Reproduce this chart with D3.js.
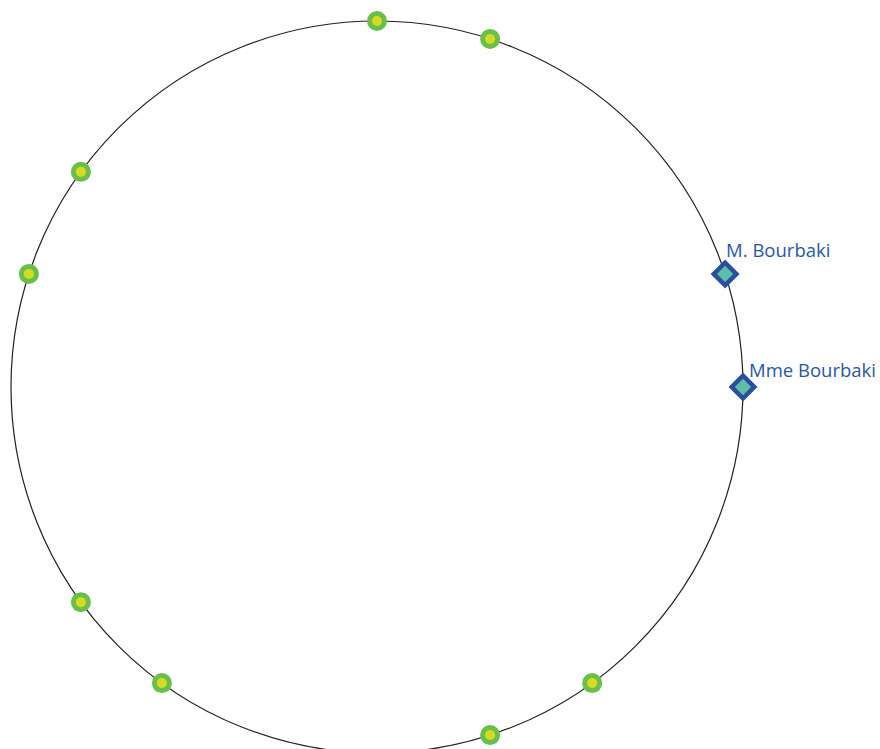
<!DOCTYPE html>
<html>
<head>
<meta charset="utf-8">
<script src="https://cdn.jsdelivr.net/npm/d3@7"></script>
<style>
  body { margin: 0; background: #fff; }
  svg { display: block; }
</style>
</head>
<body>
<div id="chart"></div>
<script>
var width = 880, height = 749;

/* positions around the ring, degrees clockwise from top */
var memberAngles = [0, 18, 144, 162, 216, 234, 288, 306];
var coupleAngles = [72, 90];
var coupleNames = ["M. Bourbaki", "Mme Bourbaki"];

var cx = 377, cy = 387, r = 366;

var svg = d3.select("#chart").append("svg")
    .attr("width", width).attr("height", height);

var angle = d3.scaleLinear().domain([0, 360]).range([0, 2 * Math.PI]);

function px(a) { return cx + r * Math.sin(angle(a)); }
function py(a) { return cy - r * Math.cos(angle(a)); }

svg.append("circle")
    .attr("cx", cx).attr("cy", cy).attr("r", r)
    .attr("fill", "none")
    .attr("stroke", "#231f20")
    .attr("stroke-width", 1.2);

var members = svg.selectAll(".member")
    .data(memberAngles)
    .enter().append("g")
    .attr("class", "member")
    .attr("transform", function(d) { return "translate(" + px(d) + "," + py(d) + ")"; });

members.append("circle").attr("r", 10).attr("fill", "#6abf4b");
members.append("circle").attr("r", 5).attr("fill", "#d3dc22");

var couple = svg.selectAll(".couple")
    .data(coupleAngles)
    .enter().append("g")
    .attr("class", "couple")
    .attr("transform", function(d) { return "translate(" + px(d) + "," + py(d) + ")"; });

couple.append("rect")
    .attr("x", -8).attr("y", -8).attr("width", 16).attr("height", 16)
    .attr("transform", "rotate(45)")
    .attr("fill", "#5dbfa6")
    .attr("stroke", "#2b4f9e")
    .attr("stroke-width", 4.5);

// label offsets differ a bit for the two labels
couple.append("text")
    .attr("x", function(d, i) { return i == 0 ? 1 : 6; })
    .attr("y", function(d, i) { return i == 0 ? -17 : -10; })
    .attr("fill", "#2a57a5")
    .style("font-family", "'Open Sans', sans-serif")
    .style("font-size", "18.5px")
    .text(function(d, i) { return coupleNames[i]; });
</script>
</body>
</html>
